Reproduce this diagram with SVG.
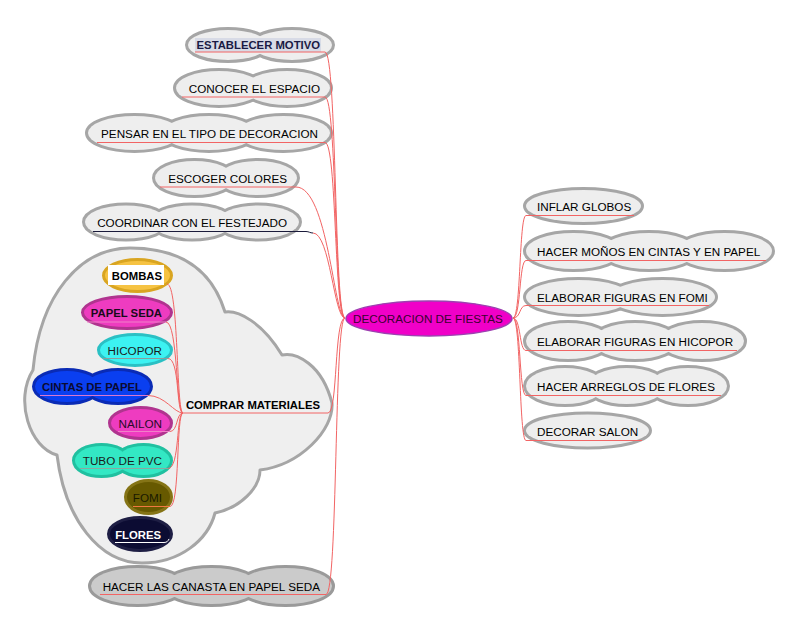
<svg xmlns="http://www.w3.org/2000/svg" width="797" height="629" viewBox="0 0 797 629">
<style>
.t{font-family:"Liberation Sans",Arial,sans-serif;font-size:11.7px}
.b{font-weight:bold;font-size:11.3px}
.e{text-anchor:end}
.m{text-anchor:middle}
.bs{fill:#eeeeee;stroke:#a6a6a6;stroke-width:6}
.bf{fill:#eeeeee;stroke:none}
.ds{fill:#cbcbcb;stroke:#9a9a9a;stroke-width:6}
.df{fill:#cbcbcb;stroke:none}
.edge{fill:none;stroke:#f26464;stroke-width:1}
.ul{fill:none;stroke-width:1}
</style>
<rect width="797" height="629" fill="#ffffff"/>

<g id="cloud-materiales">
<path d="M 33 370 C 40 295, 80 248, 130 248 C 180 248, 212 270, 225 312 C 238 310, 262 322, 282 355 C 296 352, 322 364, 332 403 C 334 430, 300 465, 260 470 C 260 488, 240 508, 215 513 C 208 540, 180 563, 142 563 C 100 563, 65 520, 57 455 C 30 448, 14 400, 33 370 Z" fill="#efefef" stroke="#a6a6a6" stroke-width="3" stroke-linejoin="round"/>
</g>

<g id="n-central">
<ellipse cx="429" cy="318.5" rx="83" ry="17.5" fill="#f000c8" stroke="#9c40b0" stroke-width="1.5"/>
<text class="t m" x="428" y="322.5" fill="#3a0030">DECORACION DE FIESTAS</text>
</g>

<g id="n-establecer">
<g class="bs"><ellipse cx="228" cy="45" rx="40" ry="15"/><ellipse cx="292" cy="45" rx="40" ry="15"/></g>
<g class="bf"><ellipse cx="228" cy="45" rx="40" ry="15"/><ellipse cx="292" cy="45" rx="40" ry="15"/></g>
<rect x="195" y="38" width="126" height="14" fill="#d8dbe6"/>
<text class="t b e" x="320" y="48.5" fill="#1a1a44">ESTABLECER MOTIVO</text>
</g>

<g id="n-conocer">
<g class="bs"><ellipse cx="219" cy="88" rx="43" ry="17"/><ellipse cx="287" cy="88" rx="43" ry="17"/></g>
<g class="bf"><ellipse cx="219" cy="88" rx="43" ry="17"/><ellipse cx="287" cy="88" rx="43" ry="17"/></g>
<text class="t e" x="320" y="93">CONOCER EL ESPACIO</text>
</g>

<g id="n-pensar">
<g class="bs"><ellipse cx="134.5" cy="133" rx="46.5" ry="17"/><ellipse cx="209" cy="133" rx="46.5" ry="17"/><ellipse cx="283.5" cy="133" rx="46.5" ry="17"/></g>
<g class="bf"><ellipse cx="134.5" cy="133" rx="46.5" ry="17"/><ellipse cx="209" cy="133" rx="46.5" ry="17"/><ellipse cx="283.5" cy="133" rx="46.5" ry="17"/></g>
<text class="t e" x="318" y="138">PENSAR EN EL TIPO DE DECORACION</text>
</g>

<g id="n-escoger">
<g class="bs"><ellipse cx="194.5" cy="178" rx="39.5" ry="17"/><ellipse cx="257.5" cy="178" rx="39.5" ry="17"/></g>
<g class="bf"><ellipse cx="194.5" cy="178" rx="39.5" ry="17"/><ellipse cx="257.5" cy="178" rx="39.5" ry="17"/></g>
<text class="t e" x="287" y="183">ESCOGER COLORES</text>
</g>

<g id="n-coordinar">
<g class="bs"><ellipse cx="126" cy="222" rx="41" ry="16.5"/><ellipse cx="192" cy="222" rx="41" ry="16.5"/><ellipse cx="258" cy="222" rx="41" ry="16.5"/></g>
<g class="bf"><ellipse cx="126" cy="222" rx="41" ry="16.5"/><ellipse cx="192" cy="222" rx="41" ry="16.5"/><ellipse cx="258" cy="222" rx="41" ry="16.5"/></g>
<text class="t e" x="287" y="227">COORDINAR CON EL FESTEJADO</text>
<path class="ul" d="M 93 231.5 H 306 C 309 231.5, 310 233, 313 233" stroke="#1a1a3a"/>
</g>

<g id="n-comprar">
<text class="t b e" x="320" y="409">COMPRAR MATERIALES</text>
</g>

<g id="n-bombas">
<ellipse cx="137.5" cy="275.5" rx="34" ry="16" fill="#f6c343" stroke="#d9a521" stroke-width="3"/>
<rect x="108" y="265" width="56" height="20" fill="#ffffff"/>
<text class="t b e" x="162" y="280">BOMBAS</text>
</g>

<g id="n-papelseda">
<ellipse cx="127" cy="312.5" rx="44.5" ry="16" fill="#ee3cc0" stroke="#b0348f" stroke-width="3"/>
<text class="t b e" x="162" y="317" fill="#1a0a1a">PAPEL SEDA</text>
<path class="ul" d="M 87 322 H 166" stroke="#f080c8"/>
</g>

<g id="n-hicopor">
<ellipse cx="135" cy="350" rx="36.5" ry="15.5" fill="#3cf2f2" stroke="#2ac0c4" stroke-width="3"/>
<text class="t e" x="162" y="354.5" fill="#1a1a1a">HICOPOR</text>
<path class="ul" d="M 103 358.5 H 168" stroke="#8c9c9c"/>
</g>

<g id="n-cintas">
<g fill="#0a3ff0" stroke="#0a2bb5" stroke-width="6"><ellipse cx="67" cy="386.5" rx="32" ry="15.5"/><ellipse cx="118" cy="386.5" rx="32" ry="15.5"/></g>
<g fill="#0a3ff0"><ellipse cx="67" cy="386.5" rx="32" ry="15.5"/><ellipse cx="118" cy="386.5" rx="32" ry="15.5"/></g>
<text class="t b e" x="142" y="391" fill="#0a0a30">CINTAS DE PAPEL</text>
<path class="ul" d="M 40 395.5 H 148" stroke="#d878d0"/>
</g>

<g id="n-nailon">
<ellipse cx="140.5" cy="423" rx="31" ry="15.5" fill="#ee3cc0" stroke="#b0348f" stroke-width="3"/>
<text class="t e" x="162" y="428" fill="#2a0a2a">NAILON</text>
<path class="ul" d="M 118 431.5 H 170" stroke="#f080c8"/>
</g>

<g id="n-tubo">
<g fill="#33e8c4" stroke="#20c0a0" stroke-width="6"><ellipse cx="101.5" cy="460.5" rx="26.5" ry="14.5"/><ellipse cx="143.5" cy="460.5" rx="26.5" ry="14.5"/></g>
<g fill="#33e8c4"><ellipse cx="101.5" cy="460.5" rx="26.5" ry="14.5"/><ellipse cx="143.5" cy="460.5" rx="26.5" ry="14.5"/></g>
<text class="t e" x="162" y="465" fill="#1a1a1a">TUBO DE PVC</text>
<path class="ul" d="M 80 468.5 H 168" stroke="#8ca8a0"/>
</g>

<g id="n-fomi">
<ellipse cx="148.5" cy="497" rx="23" ry="16.5" fill="#675900" stroke="#857416" stroke-width="3"/>
<text class="t e" x="162" y="502" fill="#1a1a00">FOMI</text>
<path class="ul" d="M 133 506.5 H 170" stroke="#f07840"/>
</g>

<g id="n-flores">
<ellipse cx="140" cy="534" rx="31.5" ry="16.5" fill="#0c0c33" stroke="#1e1e44" stroke-width="3"/>
<text class="t b e" x="161" y="539" fill="#ffffff">FLORES</text>
<path class="ul" d="M 115 542.5 H 164 C 167 542.5, 168 541, 169 539" stroke="#ffffff"/>
</g>

<g id="n-canasta">
<g class="ds"><ellipse cx="137.5" cy="586" rx="46.5" ry="18"/><ellipse cx="211.5" cy="586" rx="46.5" ry="18"/><ellipse cx="285.5" cy="586" rx="46.5" ry="18"/></g>
<g class="df"><ellipse cx="137.5" cy="586" rx="46.5" ry="18"/><ellipse cx="211.5" cy="586" rx="46.5" ry="18"/><ellipse cx="285.5" cy="586" rx="46.5" ry="18"/></g>
<text class="t e" x="320" y="591">HACER LAS CANASTA EN PAPEL SEDA</text>
</g>

<g id="n-inflar">
<g class="bs"><ellipse cx="583.5" cy="206" rx="57.5" ry="16"/></g>
<g class="bf"><ellipse cx="583.5" cy="206" rx="57.5" ry="16"/></g>
<text class="t" x="537" y="211">INFLAR GLOBOS</text>
</g>

<g id="n-monos">
<g class="bs"><ellipse cx="573.5" cy="251" rx="47.5" ry="18"/><ellipse cx="649" cy="251" rx="47.5" ry="18"/><ellipse cx="724.5" cy="251" rx="47.5" ry="18"/></g>
<g class="bf"><ellipse cx="573.5" cy="251" rx="47.5" ry="18"/><ellipse cx="649" cy="251" rx="47.5" ry="18"/><ellipse cx="724.5" cy="251" rx="47.5" ry="18"/></g>
<text class="t" x="537" y="256">HACER MOÑOS EN CINTAS Y EN PAPEL</text>
</g>

<g id="n-fig-fomi">
<g class="bs"><ellipse cx="578.5" cy="297" rx="52.5" ry="17"/><ellipse cx="662.5" cy="297" rx="52.5" ry="17"/></g>
<g class="bf"><ellipse cx="578.5" cy="297" rx="52.5" ry="17"/><ellipse cx="662.5" cy="297" rx="52.5" ry="17"/></g>
<text class="t" x="537" y="301.5">ELABORAR FIGURAS EN FOMI</text>
</g>

<g id="n-fig-hicopor">
<g class="bs"><ellipse cx="568" cy="341" rx="42" ry="18"/><ellipse cx="635" cy="341" rx="42" ry="18"/><ellipse cx="702" cy="341" rx="42" ry="18"/></g>
<g class="bf"><ellipse cx="568" cy="341" rx="42" ry="18"/><ellipse cx="635" cy="341" rx="42" ry="18"/><ellipse cx="702" cy="341" rx="42" ry="18"/></g>
<text class="t" x="537" y="346">ELABORAR FIGURAS EN HICOPOR</text>
</g>

<g id="n-arreglos">
<g class="bs"><ellipse cx="565" cy="386" rx="39" ry="18"/><ellipse cx="626.5" cy="386" rx="39" ry="18"/><ellipse cx="688" cy="386" rx="39" ry="18"/></g>
<g class="bf"><ellipse cx="565" cy="386" rx="39" ry="18"/><ellipse cx="626.5" cy="386" rx="39" ry="18"/><ellipse cx="688" cy="386" rx="39" ry="18"/></g>
<text class="t" x="537" y="391">HACER ARREGLOS DE FLORES</text>
</g>

<g id="n-salon">
<g class="bs"><ellipse cx="587.5" cy="430.5" rx="61.5" ry="16"/></g>
<g class="bf"><ellipse cx="587.5" cy="430.5" rx="61.5" ry="16"/></g>
<text class="t" x="537" y="436">DECORAR SALON</text>
</g>

<g id="connectors" class="edge">
<path d="M 195 52 H 325 C 337 52, 334 318, 345 318"/>
<path d="M 182 97 H 325 C 337 97, 334 318, 345 318"/>
<path d="M 97 142.5 H 325 C 337 142.5, 334 318, 345 318"/>
<path d="M 160 187 H 296 C 328 187, 334 318, 345 318"/>
<path d="M 313 233 C 330 233, 334 318, 345 318"/>
<path d="M 183 413 H 328 C 338 413, 334 318, 345 318"/>
<path d="M 100 594.5 H 326 C 338 594.5, 334 318, 345 318"/>
<path d="M 513 318 C 521 318, 519 215.5, 526 215.5 H 634"/>
<path d="M 513 318 C 521 318, 519 260.5, 526 260.5 H 766"/>
<path d="M 513 318 C 521 318, 519 305.5, 526 305.5 H 709"/>
<path d="M 513 318 C 521 318, 519 350.5, 526 350.5 H 737"/>
<path d="M 513 318 C 521 318, 519 395.5, 526 395.5 H 721"/>
<path d="M 513 318 C 521 318, 519 440.5, 526 440.5 H 642"/>
<path d="M 167 284 C 179 284, 176 413, 183 413"/>
<path d="M 166 322 C 178 322, 176 413, 183 413"/>
<path d="M 168 358.5 C 180 358.5, 176 413, 183 413"/>
<path d="M 148 395.5 C 165 395.5, 174 413, 183 413"/>
<path d="M 170 431.5 C 178 431.5, 176 413, 183 413"/>
<path d="M 168 468.5 C 180 468.5, 176 413, 183 413"/>
<path d="M 170 506.5 C 180 506.5, 176 413, 183 413"/>
</g>
</svg>
